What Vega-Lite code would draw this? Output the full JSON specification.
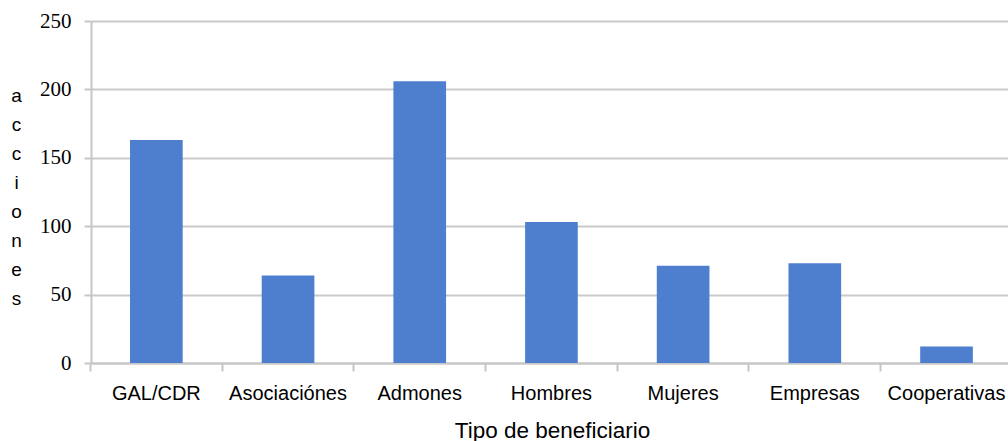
{
  "$schema": "https://vega.github.io/schema/vega-lite/v6.json",
  "autosize": {"type": "none"},
  "padding": {"left": 91, "top": 21, "right": 0, "bottom": 78},
  "width": 917,
  "height": 342,
  "background": "white",
  "config": {
    "view": {"stroke": null},
    "axis": {
      "gridColor": "#cacaca",
      "gridWidth": 2,
      "domainColor": "#c6c6c6",
      "domainWidth": 2,
      "tickColor": "#c6c6c6",
      "tickWidth": 2,
      "labelColor": "black",
      "titleColor": "black",
      "titleFontWeight": "normal"
    }
  },
  "data": {
    "values": [
      {"tipo": "GAL/CDR", "acciones": 163},
      {"tipo": "Asociaciónes", "acciones": 64},
      {"tipo": "Admones", "acciones": 206},
      {"tipo": "Hombres", "acciones": 103},
      {"tipo": "Mujeres", "acciones": 71},
      {"tipo": "Empresas", "acciones": 73},
      {"tipo": "Cooperativas", "acciones": 12}
    ]
  },
  "mark": {"type": "bar", "color": "#4e7fcf"},
  "encoding": {
    "x": {
      "field": "tipo",
      "type": "nominal",
      "sort": null,
      "scale": {"paddingInner": 0.6, "paddingOuter": 0.2815, "align": 0.526},
      "axis": {
        "title": "Tipo de beneficiario",
        "titleFont": "Liberation Sans",
        "titleFontSize": 22.5,
        "titleBaseline": "alphabetic",
        "titleY": 74,
        "titleX": 461,
        "labelFont": "Liberation Sans",
        "labelFontSize": 20,
        "labelAngle": 0,
        "labelBaseline": "top",
        "labelPadding": 12,
        "bandPosition": -0.75,
        "ticks": true,
        "tickSize": 8,
        "grid": false
      }
    },
    "y": {
      "field": "acciones",
      "type": "quantitative",
      "scale": {"domain": [0, 250], "nice": false},
      "axis": {
        "values": [0, 50, 100, 150, 200, 250],
        "title": ["a", "c", "c", "i", "o", "n", "e", "s"],
        "titleFont": "Liberation Sans",
        "titleFontSize": 19,
        "titleLineHeight": 29,
        "titleAngle": 0,
        "titleAlign": "center",
        "titleBaseline": "middle",
        "titleX": -75,
        "titleY": 74,
        "labelFont": "Liberation Serif",
        "labelFontSize": 21,
        "labelPadding": 13,
        "ticks": true,
        "tickSize": 7,
        "grid": true
      }
    }
  }
}
